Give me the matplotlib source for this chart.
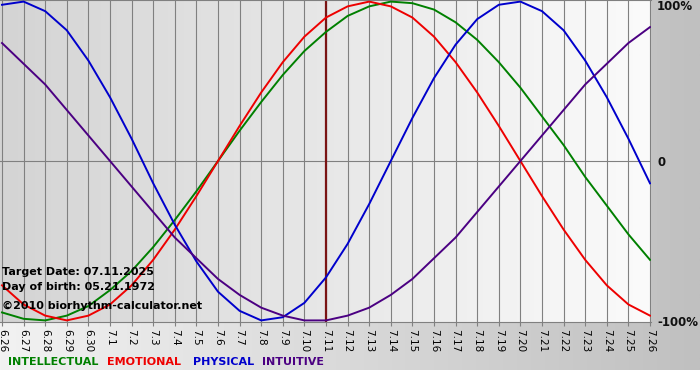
import numpy as np
import matplotlib.pyplot as plt
from matplotlib.colors import LinearSegmentedColormap

# -------------------- 数据 --------------------
days = ["6.26", "6.27", "6.28", "6.29", "6.30",
        "7.1", "7.2", "7.3", "7.4", "7.5", "7.6", "7.7", "7.8", "7.9", "7.10",
        "7.11", "7.12", "7.13", "7.14", "7.15", "7.16", "7.17", "7.18", "7.19",
        "7.20", "7.21", "7.22", "7.23", "7.24", "7.25", "7.26"]

intellectual = [-0.95, -0.99, -1.00, -0.97, -0.91, -0.81, -0.69, -0.54, -0.37, -0.19,
                0.00, 0.19, 0.37, 0.54, 0.69, 0.81, 0.91, 0.97, 1.00, 0.99,
                0.95, 0.87, 0.76, 0.62, 0.46, 0.28, 0.10, -0.10, -0.28, -0.46, -0.62]
emotional = [-0.78, -0.90, -0.97, -1.00, -0.97, -0.90, -0.78, -0.62, -0.43, -0.22,
             0.00, 0.22, 0.43, 0.62, 0.78, 0.90, 0.97, 1.00, 0.97, 0.90,
             0.78, 0.62, 0.43, 0.22, 0.00, -0.22, -0.43, -0.62, -0.78, -0.90, -0.97]
physical = [0.98, 1.00, 0.94, 0.82, 0.63, 0.40, 0.14, -0.14, -0.40, -0.63,
            -0.82, -0.94, -1.00, -0.98, -0.89, -0.73, -0.52, -0.27, 0.00, 0.27,
            0.52, 0.73, 0.89, 0.98, 1.00, 0.94, 0.82, 0.63, 0.40, 0.14, -0.14]
intuitive = [0.74, 0.61, 0.48, 0.32, 0.16, 0.00, -0.16, -0.32, -0.48, -0.61,
             -0.74, -0.84, -0.92, -0.97, -1.00, -1.00, -0.97, -0.92, -0.84, -0.74,
             -0.61, -0.48, -0.32, -0.16, 0.00, 0.16, 0.32, 0.48, 0.61, 0.74, 0.84]

target_day = "7.11"
info_lines = ["Target Date: 07.11.2025", "Day of birth: 05.21.1972",
              "\u00a92010 biorhythm-calculator.net"]

series = [("INTELLECTUAL", intellectual, "#008000"),
          ("EMOTIONAL", emotional, "#ee0000"),
          ("PHYSICAL", physical, "#0000cc"),
          ("INTUITIVE", intuitive, "#4b0082")]

W, H = 700, 380


def px(x, y):
    """像素坐标 -> figure 坐标"""
    return x / W, 1 - y / H


fig = plt.figure(figsize=(7, 3.8), dpi=100)
fig.patch.set_facecolor("white")

# 整体背景渐变
bg = fig.add_axes([0, 10 / H, 1, 1 - 10 / H])
bg_cmap = LinearSegmentedColormap.from_list("bg", ["#f2f2f2", "#c0c0c0"])
bg.imshow(np.linspace(0, 1, 256).reshape(1, -1), aspect="auto", cmap=bg_cmap,
          extent=[0, 1, 0, 1])
bg.axis("off")

# 绘图区
ax = fig.add_axes([0, 58 / H, 651 / W, 322 / H])
x = np.arange(len(days))
x0, x1 = -2 / 21.6, len(days) - 1 + 1 / 21.6
ax.set_xlim(x0, x1)
ax.set_ylim(-1.01, 1.01)

plot_cmap = LinearSegmentedColormap.from_list("plot", ["#d4d4d4", "#fbfbfb"])
ax.imshow(np.linspace(0, 1, 256).reshape(1, -1), aspect="auto", cmap=plot_cmap,
          extent=[x0, x1, -1.01, 1.01], zorder=0)

for xi in x:
    ax.axvline(xi, color="#808080", linewidth=0.8, zorder=1)
ax.axhline(0, color="#808080", linewidth=0.8, zorder=1)

ax.axvline(days.index(target_day), color="#7a1414", linewidth=1.6, zorder=2)

for name, values, color in series:
    ax.plot(x, values, color=color, linewidth=1.4, zorder=3)

for s in ["left", "right"]:
    ax.spines[s].set_visible(False)
for s in ["top", "bottom"]:
    ax.spines[s].set_color("#808080")
    ax.spines[s].set_linewidth(0.8)

ax.set_yticks([])
ax.set_xticks(x)
ax.set_xticklabels(days, rotation=-90, fontsize=7.5)
ax.tick_params(axis="x", length=3, width=0.8, color="#808080", pad=2)

# 左下角信息
for label, ypx in zip(info_lines, [272, 287, 306]):
    fig.text(*px(2, ypx), label, fontsize=8, fontweight="bold", va="center",
             ha="left", color="black", zorder=6)

# 右侧百分比标签
for label, ypx in [("100%", 7), ("0", 162), ("-100%", 322)]:
    fig.text(*px(657, ypx), label, fontsize=8.5, fontweight="bold",
             va="center", ha="left", color="#111111")

# 底部图例
for (name, values, color), xpx in zip(series, [8, 107, 193, 262]):
    fig.text(*px(xpx, 362), name, fontsize=8, fontweight="bold", color=color,
             va="center", ha="left")

fig.savefig("out.png", dpi=100)
